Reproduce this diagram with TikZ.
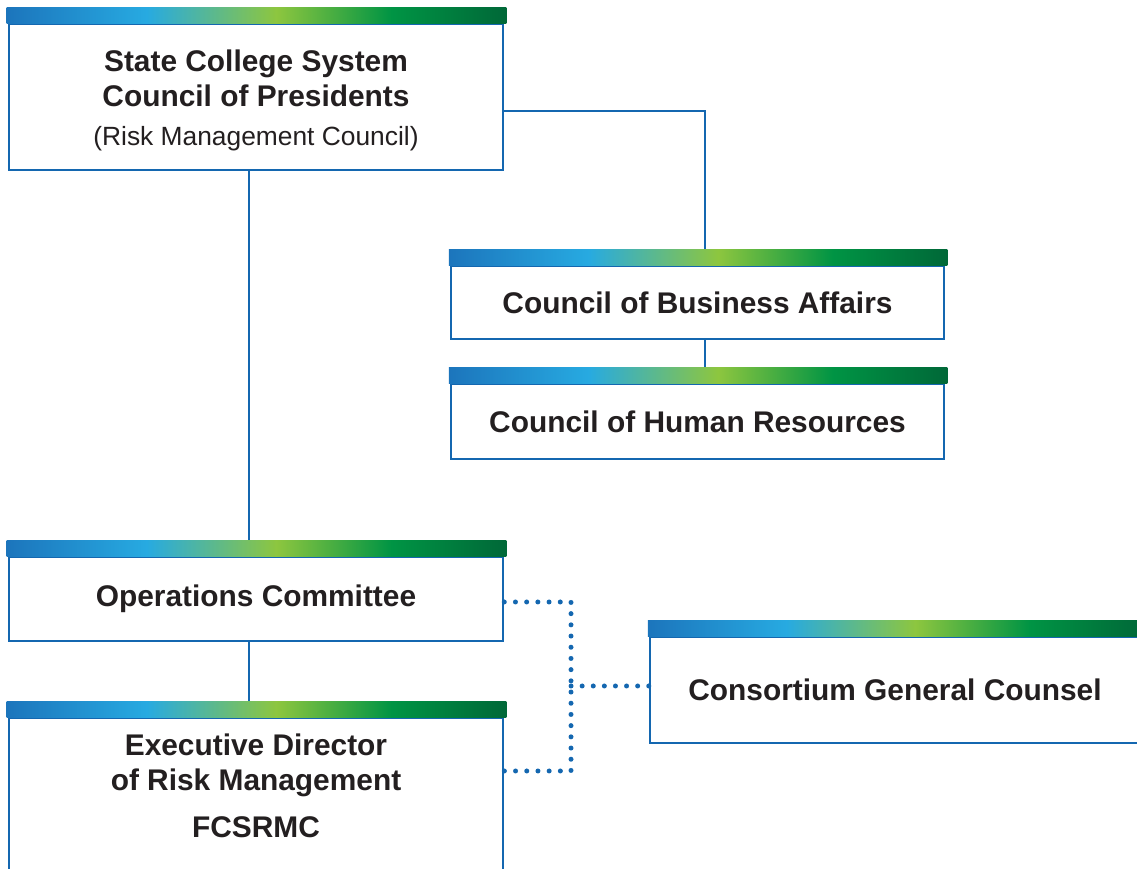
\documentclass[tikz,border=0pt]{standalone}
\usepackage{fontspec}
\setmainfont{Liberation Sans}
\usetikzlibrary{calc}
\definecolor{linkblue}{RGB}{20,103,176}
\definecolor{inkblack}{RGB}{35,31,32}
\definecolor{barblue}{RGB}{28,117,188}
\definecolor{barcyan}{RGB}{39,170,225}
\definecolor{barlime}{RGB}{141,198,63}
\definecolor{bargreen}{RGB}{0,148,68}
\definecolor{bardark}{RGB}{0,104,56}
\pgfdeclarehorizontalshading{gradbar}{100bp}{color(0bp)=(barblue); color(25bp)=(barblue); color(39bp)=(barcyan); color(52bp)=(barlime); color(63.5bp)=(bargreen); color(75bp)=(bardark); color(100bp)=(bardark)}

\tikzset{
    box/.style={draw=linkblue, line width=0.05cm, fill=white, inner sep=0pt,
        minimum width=9.88cm, align=center, text=inkblack,
        font=\bfseries\fontsize{17}{20}\selectfont},
    boxtext/.style={align=center, text=inkblack, inner sep=0pt,
        font=\bfseries\fontsize{17}{20}\selectfont},
    link/.style={draw=linkblue, line width=0.05cm},
    dotline/.style={draw=linkblue, line width=0.1cm, line cap=round,
        dash pattern=on 0pt off #1},
    dotline/.default=0.224cm,
}

\begin{document}
\begin{tikzpicture}

    \useasboundingbox (0,0) rectangle (22.74,17.38);
    \clip (0,0) rectangle (22.74,17.38);

    \node[box, minimum height=2.92cm] (scs) at (5.12,15.44) {};
    \node[boxtext] (scstext) at (5.12,15.37) {State College System\\Council of Presidents\\[2pt]
         {\mdseries\fontsize{15}{18}\selectfont (Risk Management Council)}};
    \node[box, minimum width=9.86cm, minimum height=1.46cm] (cba) at (13.95,11.33) {Council of Business Affairs};
    \node[box, minimum width=9.86cm, minimum height=1.5cm] (chr) at (13.95,8.95) {Council of Human Resources};
    \node[box, minimum height=1.68cm] (ops) at (5.12,5.40) {Operations Committee};
    \node[box, minimum height=3.9cm, anchor=north] (edr) at (5.12,3.04) {};
    \node[boxtext] (edrtext) at (5.12,1.66) {Executive Director\\of Risk Management\\[7pt]FCSRMC};
    \node[box, minimum width=9.8cm, minimum height=2.12cm] (cgc) at (17.9,3.58) {Consortium General Counsel};

    % solid lines
    \draw[link] ([xshift=-0.14cm]scs.south) -- ([xshift=-0.14cm]ops.north);
    \draw[link] ([yshift=-0.28cm]scs.east) -| ([xshift=0.15cm]cba.north);
    \draw[link] ([xshift=0.15cm]cba.south) -- ([xshift=0.15cm]chr.north);
    \draw[link] ([xshift=-0.14cm]ops.south) -- ([xshift=-0.14cm]edr.north);

    % dotted lines
    \coordinate (jn) at (11.42,3.66);
    \coordinate (edrlink) at (edr.east |- 0,1.96);
    \draw[dotline] ([yshift=-0.06cm]ops.east) -| (jn) |- (edrlink);
    \draw[dotline=0.222cm] (cgc.west |- jn) -- (jn);

    % colour bars
    \foreach \n in {scs,cba,chr,ops,edr,cgc}
        \shade[shading=gradbar] ([xshift=-0.02cm,yshift=-0.02cm]\n.north west) rectangle ([xshift=0.04cm,yshift=0.3cm]\n.north east);

\end{tikzpicture}
\end{document}
